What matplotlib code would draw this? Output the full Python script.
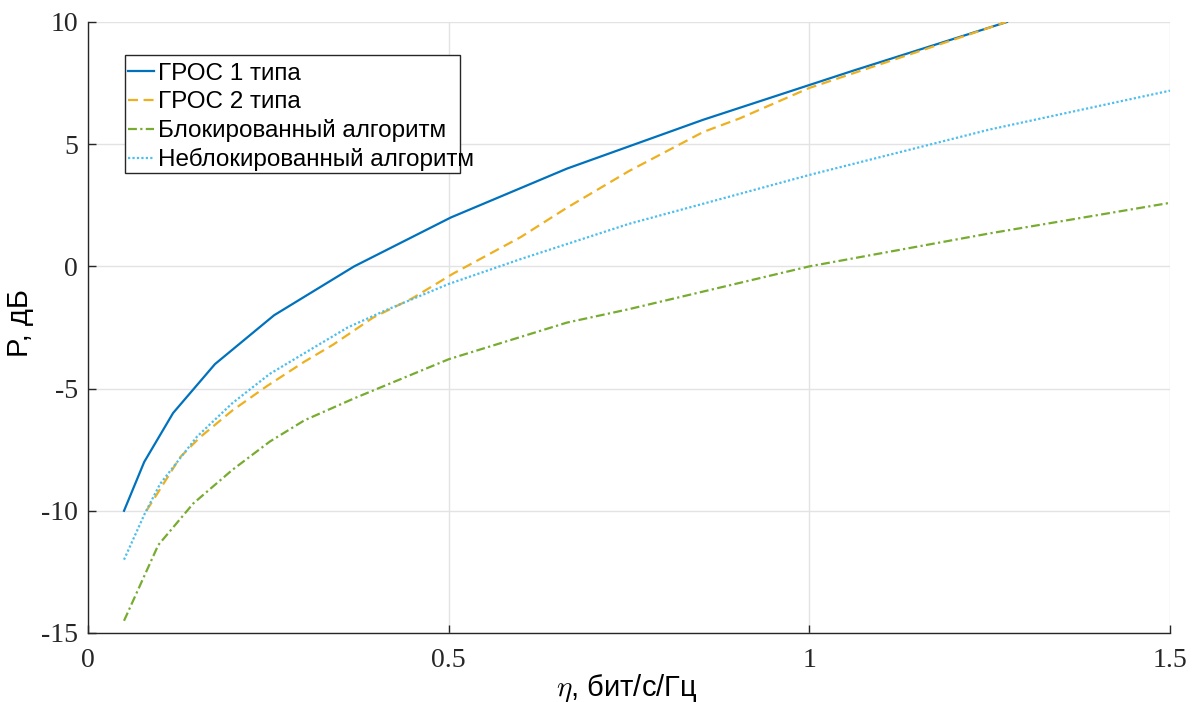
import matplotlib
matplotlib.use("Agg")
import matplotlib.pyplot as plt
from matplotlib.patches import Rectangle

# spectral efficiency (bit/s/Hz) vs required power (dB)
eta_gros1 = [0.05, 0.078, 0.118, 0.176, 0.258, 0.369, 0.503, 0.664, 0.853, 1.06, 1.274]
p_gros1 = [-10, -8, -6, -4, -2, 0, 2, 4, 6, 8, 10]

eta_gros2 = [0.081, 0.095, 0.128, 0.155, 0.2, 0.248, 0.30, 0.34, 0.395, 0.45, 0.506,
             0.6, 0.664, 0.75, 0.853, 0.904, 1.0, 1.144, 1.273]
p_gros2 = [-10, -9.35, -7.8, -7.0, -5.9, -4.9, -3.9, -3.2, -2.1, -1.3, -0.3,
           1.2, 2.4, 3.9, 5.5, 6.06, 7.3, 8.72, 10]

eta_block = [0.05, 0.0975, 0.146, 0.2, 0.252, 0.3, 0.369, 0.5, 0.664, 0.75, 1.0, 1.25, 1.5]
p_block = [-14.5, -11.4, -9.7, -8.33, -7.17, -6.3, -5.4, -3.8, -2.3, -1.75, 0.0, 1.35, 2.6]

eta_unblock = [0.05, 0.079, 0.1, 0.151, 0.2, 0.252, 0.303, 0.36, 0.414, 0.5, 0.6,
               0.75, 1.0, 1.25, 1.5]
p_unblock = [-12, -10.1, -8.9, -6.97, -5.6, -4.4, -3.5, -2.5, -1.78, -0.72, 0.3,
             1.74, 3.74, 5.6, 7.19]

labels = ["ГРОС 1 типа", "ГРОС 2 типа", "Блокированный алгоритм", "Неблокированный алгоритм"]

plt.rcParams["mathtext.fontset"] = "cm"

fig = plt.figure(figsize=(12, 7.02), dpi=100)
ax = fig.add_axes([0.0733, 0.0983, 0.9017, 0.8704])

ax.plot(eta_gros1, p_gros1, color="#0072BD", lw=1.6, ls="-", label=labels[0])
ax.plot(eta_gros2, p_gros2, color="#EDB120", lw=1.6, ls=(0, (4.5, 2.5)), label=labels[1])
ax.plot(eta_block, p_block, color="#77AC30", lw=1.6, ls=(0, (4, 1.5, 1, 1.5)), label=labels[2])
ax.plot(eta_unblock, p_unblock, color="#4DBEEE", lw=1.6, ls=(0, (1, 1)), label=labels[3])

ax.set_xlim(0, 1.5)
ax.set_ylim(-15, 10)
ax.set_xticks([0, 0.5, 1, 1.5])
ax.set_xticklabels(["0", "0.5", "1", "1.5"])
ax.set_yticks([-15, -10, -5, 0, 5, 10])
ax.set_yticklabels(["-15", "-10", "-5", "0", "5", "10"])

for lab in ax.get_xticklabels() + ax.get_yticklabels():
    lab.set_fontfamily("Liberation Serif")
    lab.set_fontsize(20)
    lab.set_color("#262626")

ax.tick_params(direction="in", length=6, width=1, color="#262626")
ax.tick_params(axis="x", pad=11)
ax.tick_params(axis="y", pad=7)
ax.grid(True, color="#e3e3e3", lw=1)
ax.set_axisbelow(True)
for side in ["top", "right"]:
    ax.spines[side].set_visible(False)
for side in ["left", "bottom"]:
    ax.spines[side].set_color("#262626")
    ax.spines[side].set_linewidth(1)

ax.set_xlabel(r"$\eta$, бит/с/Гц", fontfamily="Liberation Sans", fontsize=21)
ax.xaxis.set_label_coords(0.498, -0.064)
ax.set_ylabel("P, дБ", fontfamily="Liberation Sans", fontsize=21)
ax.yaxis.set_label_coords(-0.05, 0.508)

# legend text without a frame, box drawn separately so the long label can run past it
leg = ax.legend(loc="upper left", bbox_to_anchor=(0.037, 0.933), borderaxespad=0,
                prop={"family": "Liberation Sans", "size": 17.5}, frameon=False,
                handlelength=1.05, handletextpad=0.18, labelspacing=0.25, borderpad=0)
ax.add_patch(Rectangle((0.0342, 0.7529), 0.3096, 0.1931, transform=ax.transAxes,
                       facecolor="white", edgecolor="#262626", lw=1, zorder=4))
leg.set_zorder(5)

fig.savefig("out.png", dpi=100)
